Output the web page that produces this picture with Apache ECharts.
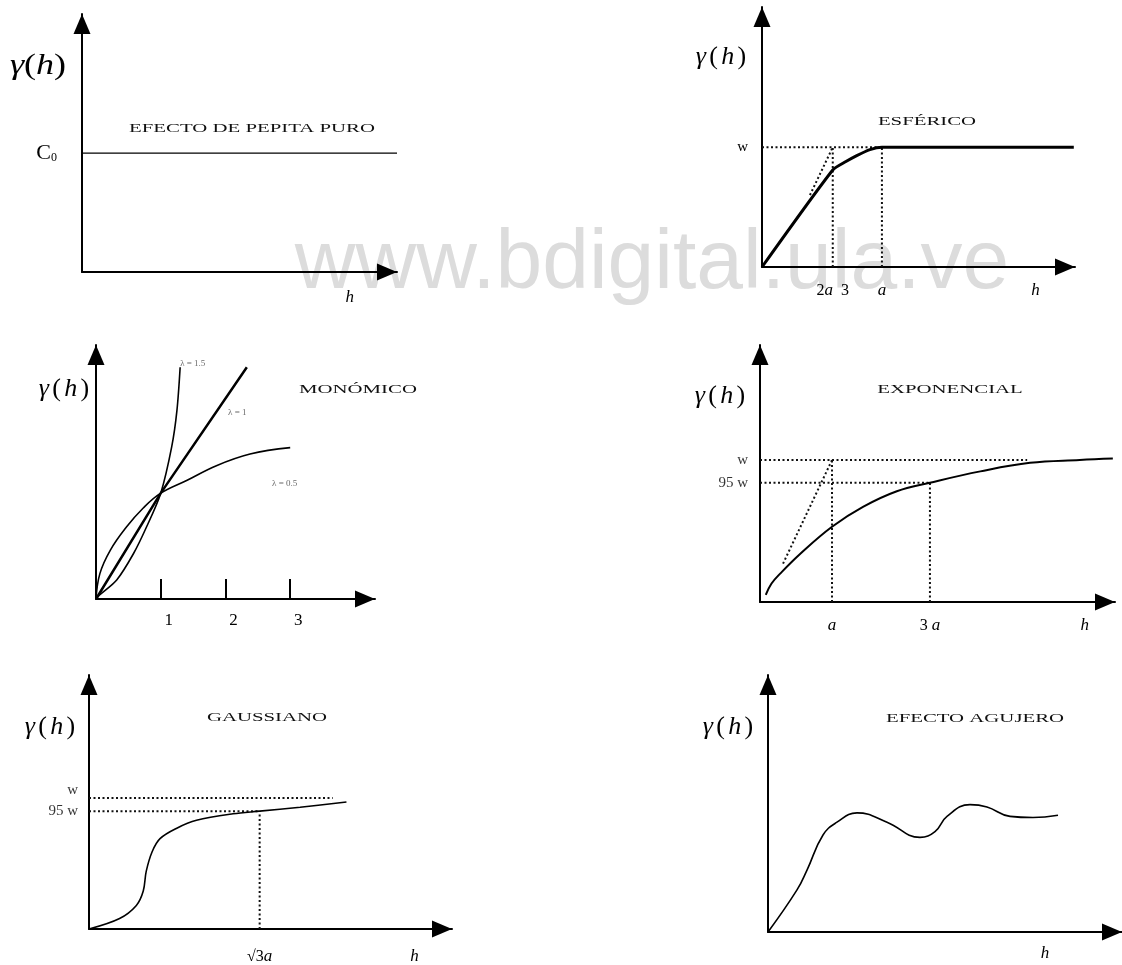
<!DOCTYPE html>
<html>
<head>
<meta charset="utf-8">
<title>Modelos de variograma</title>
<script src="https://cdn.jsdelivr.net/npm/echarts@6/dist/echarts.min.js"></script>
<style>
html, body { margin: 0; padding: 0; background: #fff; }
#main { width: 1122px; height: 965px; }
</style>
</head>
<body>
<div id="main"></div>
<script>
// valores (h en unidades de a, gamma en unidades de w)

// efecto de pepita puro
var nuggetH = [0, 10];
var nuggetGamma = [1, 1];

// esferico
var sphH = [0, 0.59, 0.7, 0.79, 0.9, 1, 2.6];
var sphGamma = [0, 0.81, 0.88, 0.93, 0.98, 1, 1];
var sphTangent = [[0.4, 0.6], [0.59, 1]];
var sphTickVals = [0.59, 1, 2.28];
var sphTickLabels = ['{n|2}{i|a}  {n|3}', '{i|a}', '{i|h}'];

// monomico
var monoTicks = [1, 2, 3];
var mono1H = [0, 1, 2.33];
var mono1G = [0, 1, 2.19];
var mono15H = [0, 0.06, 0.32, 0.58, 0.78, 1, 1.17, 1.25, 1.3];
var mono15G = [0, 0.04, 0.18, 0.43, 0.68, 1, 1.44, 1.78, 2.19];
var mono05H = [0, 0.06, 0.22, 0.47, 0.73, 1, 1.4, 1.86, 2.38, 3.0];
var mono05G = [0, 0.24, 0.46, 0.68, 0.86, 1, 1.12, 1.26, 1.37, 1.43];
var monoLabels = ['λ = 1.5', 'λ = 1', 'λ = 0.5'];
var monoLabelAt = [[1.3, 2.22], [2.04, 1.76], [2.72, 1.09]];

// exponencial
var expH = [0.08, 0.16, 0.28, 0.56, 1, 1.43, 1.9, 2.36, 3.06, 3.75, 4.44, 4.9];
var expGamma = [0.05, 0.13, 0.2, 0.34, 0.53, 0.67, 0.78, 0.84, 0.92, 0.98, 1.0, 1.01];
var expTangent = [[0.32, 0.27], [1, 1]];
var expSillEnd = 3.71;
var expTickVals = [1, 2.36, 4.51];
var expTickLabels = ['{i|a}', '{n|3} {i|a}', '{i|h}'];
var expLevels = [1, 0.84];
var expLevelLabels = ['w', '95 w'];

// gaussiano
var gaussH = [0, 0.31, 0.48, 0.55, 0.58, 0.64, 0.72, 0.89, 1.09, 1.46, 1.73, 2.14, 2.61];
var gaussGamma = [0, 0.08, 0.18, 0.29, 0.44, 0.59, 0.69, 0.77, 0.83, 0.88, 0.9, 0.93, 0.97];
var gaussSillEnd = 2.47;
var gaussTickVals = [1.73, 3.3];
var gaussTickLabels = ['{n|√3}{i|a}', '{i|h}'];
var gaussLevels = [1, 0.9];
var gaussLevelLabels = ['w', '95 w'];

// efecto agujero
var holeH = [0, 0.29, 0.39, 0.55, 0.69, 0.89, 1.19, 1.52, 1.67, 1.79, 2.02, 2.19, 2.42, 2.65, 2.9];
var holeGamma = [0, 0.36, 0.53, 0.83, 0.94, 1.02, 0.94, 0.81, 0.86, 0.99, 1.09, 1.07, 0.99, 0.98, 1.0];

var SERIF = '"Liberation Serif", "Times New Roman", serif';

// cajas de los seis paneles
var boxes = [
  { left: 82,  top: 14,  width: 315, height: 258, xMax: 10,   yMax: 2.17 },
  { left: 762, top: 7,   width: 313, height: 260, xMax: 2.61, yMax: 2.17 },
  { left: 96,  top: 345, width: 279, height: 254, xMax: 4.31, yMax: 2.4 },
  { left: 760, top: 345, width: 355, height: 257, xMax: 4.93, yMax: 1.81 },
  { left: 89,  top: 675, width: 363, height: 256, xMax: 3.68, yMax: 1.94 },
  { left: 768, top: 675, width: 354, height: 257, xMax: 3.54, yMax: 2.2 }
];

var RICH = {
  n: { fontFamily: SERIF, fontSize: 16, color: '#000' },
  i: { fontFamily: SERIF, fontSize: 17, fontStyle: 'italic', color: '#000' },
  c: { fontFamily: SERIF, fontSize: 22, color: '#000' },
  s: { fontFamily: SERIF, fontSize: 12, color: '#000', verticalAlign: 'bottom' }
};

function zip(xs, ys) {
  return xs.map(function (x, i) { return [x, ys[i]]; });
}

function pick(vals, labels, v) {
  var best = 0;
  for (var k = 1; k < vals.length; k++) {
    if (Math.abs(vals[k] - v) < Math.abs(vals[best] - v)) best = k;
  }
  return labels[best];
}

function arrowLine() {
  return {
    show: true,
    lineStyle: { color: '#000', width: 2 },
    symbol: ['none', 'triangle'],
    symbolSize: [17, 20],
    symbolOffset: [0, -10]
  };
}

function makeX(i, vals, labels, margin) {
  var b = boxes[i];
  return {
    type: 'value', gridIndex: i, min: 0, max: b.xMax,
    splitLine: { show: false },
    axisLine: arrowLine(),
    axisTick: { show: false },
    axisLabel: {
      show: vals.length > 0,
      customValues: vals,
      margin: margin,
      fontFamily: SERIF, fontSize: 16, color: '#000',
      rich: RICH,
      formatter: function (v) { return pick(vals, labels, v); }
    }
  };
}

function makeY(i, vals, labels, margin, size) {
  var b = boxes[i];
  return {
    type: 'value', gridIndex: i, min: 0, max: b.yMax,
    splitLine: { show: false },
    axisLine: arrowLine(),
    axisTick: { show: false },
    axisLabel: {
      show: vals.length > 0,
      customValues: vals,
      margin: margin,
      fontFamily: SERIF, fontSize: size || 15, color: '#000',
      rich: RICH,
      formatter: function (v) { return pick(vals, labels, v); }
    }
  };
}

function curve(i, data, width, smooth) {
  return {
    type: 'line', xAxisIndex: i, yAxisIndex: i,
    data: data, symbol: 'none', smooth: smooth,
    lineStyle: { color: '#000', width: width },
    silent: true, z: 3
  };
}

function dotted(i, seg) {
  return {
    type: 'line', xAxisIndex: i, yAxisIndex: i,
    data: seg, symbol: 'none',
    lineStyle: { color: '#111', width: 2, type: [2, 2.5] },
    silent: true, z: 2
  };
}

// etiquetas de nivel a la izquierda del eje (w, 95 w); lift sube la primera
function levelLabels(i, levels, labels, dist, lift) {
  return {
    type: 'scatter', xAxisIndex: i, yAxisIndex: i, symbolSize: 0, silent: true,
    data: levels.map(function (v, k) {
      return { value: [0, v], name: labels[k], label: { offset: [0, k === 0 ? -lift : 0] } };
    }),
    label: { show: true, position: 'left', distance: dist, formatter: '{b}', fontFamily: SERIF, fontSize: 15, color: '#000' }
  };
}

function gammaText(cx, cy, spaced, size, sx) {
  var sp = spaced ? ' ' : '';
  return {
    type: 'text', x: cx, y: cy, scaleX: sx, z: 5,
    style: {
      text: '{g|γ}' + sp + '{p|(}' + sp + '{g|h}' + sp + '{p|)}',
      align: 'center', verticalAlign: 'middle',
      textAlign: 'center', textVerticalAlign: 'middle',
      fill: '#000',
      rich: {
        g: { fontFamily: SERIF, fontSize: size, fontStyle: 'italic', fill: '#000' },
        p: { fontFamily: SERIF, fontSize: size, fill: '#000' }
      }
    }
  };
}

function titleText(cx, cy, txt) {
  return {
    type: 'text', x: cx, y: cy, scaleX: 1.6, z: 5,
    style: {
      text: txt, fill: '#111',
      font: '13px ' + SERIF,
      align: 'center', verticalAlign: 'middle',
      textAlign: 'center', textVerticalAlign: 'middle'
    }
  };
}

var chart = echarts.init(document.getElementById('main'));

var grids = boxes.map(function (b) {
  return { left: b.left, top: b.top, width: b.width, height: b.height, containLabel: false };
});

var xAxes = [
  makeX(0, [8.5], ['{i|h}'], 17),
  makeX(1, sphTickVals, sphTickLabels, 15),
  makeX(2, monoTicks, monoTicks.map(String), 13),
  makeX(3, expTickVals, expTickLabels, 15),
  makeX(4, gaussTickVals, gaussTickLabels, 19),
  makeX(5, [2.77], ['{i|h}'], 13)
];
// marcas del eje h del monomico
xAxes[2].axisTick = { show: true, customValues: monoTicks, inside: true, length: 20, lineStyle: { color: '#000', width: 2 } };
xAxes[2].axisLabel.fontSize = 17;
xAxes[2].axisLabel.padding = [0, 0, 0, 16];

var yAxes = [
  makeY(0, [1], ['{c|C}{s|0}'], 25),
  makeY(1, [1], ['w'], 14),
  makeY(2, [], [], 10),
  makeY(3, [], [], 12),
  makeY(4, [], [], 11),
  makeY(5, [], [], 10)
];

var series = [
  // pepita
  curve(0, zip(nuggetH, nuggetGamma), 1.3, false),
  // esferico
  curve(1, zip(sphH, sphGamma), 3, 0.2),
  dotted(1, [[0, 1], [1, 1]]),
  dotted(1, [[0.59, 0], [0.59, 1]]),
  dotted(1, [[1, 0], [1, 1]]),
  dotted(1, sphTangent),
  // monomico
  curve(2, zip(mono15H, mono15G), 1.6, 0.3),
  curve(2, zip(mono1H, mono1G), 2.5, false),
  curve(2, zip(mono05H, mono05G), 1.6, 0.4),
  {
    type: 'scatter', xAxisIndex: 2, yAxisIndex: 2, symbolSize: 0, silent: true,
    data: monoLabelAt.map(function (p, k) { return { value: p, name: monoLabels[k] }; }),
    label: { show: true, position: 'right', distance: 0, formatter: '{b}', fontFamily: SERIF, fontSize: 9, color: '#444' }
  },
  // exponencial
  curve(3, zip(expH, expGamma), 2, 0.4),
  dotted(3, [[0, expLevels[0]], [expSillEnd, expLevels[0]]]),
  dotted(3, [[0, expLevels[1]], [expTickVals[1], expLevels[1]]]),
  dotted(3, [[expTickVals[0], 0], [expTickVals[0], expLevels[0]]]),
  dotted(3, [[expTickVals[1], 0], [expTickVals[1], expLevels[1]]]),
  dotted(3, expTangent),
  levelLabels(3, expLevels, expLevelLabels, 12, 0),
  // gaussiano
  curve(4, zip(gaussH, gaussGamma), 1.6, 0.35),
  dotted(4, [[0, gaussLevels[0]], [gaussSillEnd, gaussLevels[0]]]),
  dotted(4, [[0, gaussLevels[1]], [gaussTickVals[0], gaussLevels[1]]]),
  dotted(4, [[gaussTickVals[0], 0], [gaussTickVals[0], gaussLevels[1]]]),
  levelLabels(4, gaussLevels, gaussLevelLabels, 11, 8),
  // efecto agujero
  curve(5, zip(holeH, holeGamma), 1.6, 0.45)
];

var graphics = [
  {
    type: 'text', x: 652, y: 265, z: 0,
    style: {
      text: 'www.bdigital.ula.ve', fill: '#dcdcdc',
      font: '84px "Liberation Sans", Arial, sans-serif',
      align: 'center', verticalAlign: 'middle',
      textAlign: 'center', textVerticalAlign: 'middle'
    }
  },
  gammaText(38, 66, false, 30, 1.2),
  gammaText(721, 57, true, 26, 1),
  gammaText(64, 389, true, 26, 1),
  gammaText(720, 396, true, 26, 1),
  gammaText(50, 727, true, 26, 1),
  gammaText(728, 727, true, 26, 1),
  titleText(252, 129, 'EFECTO DE PEPITA PURO'),
  titleText(927, 122, 'ESFÉRICO'),
  titleText(358, 390, 'MONÓMICO'),
  titleText(950, 390, 'EXPONENCIAL'),
  titleText(267, 718, 'GAUSSIANO'),
  titleText(975, 719, 'EFECTO AGUJERO')
];

chart.setOption({
  backgroundColor: '#fff',
  animation: false,
  grid: grids,
  xAxis: xAxes,
  yAxis: yAxes,
  series: series,
  graphic: graphics
});
</script>
</body>
</html>
